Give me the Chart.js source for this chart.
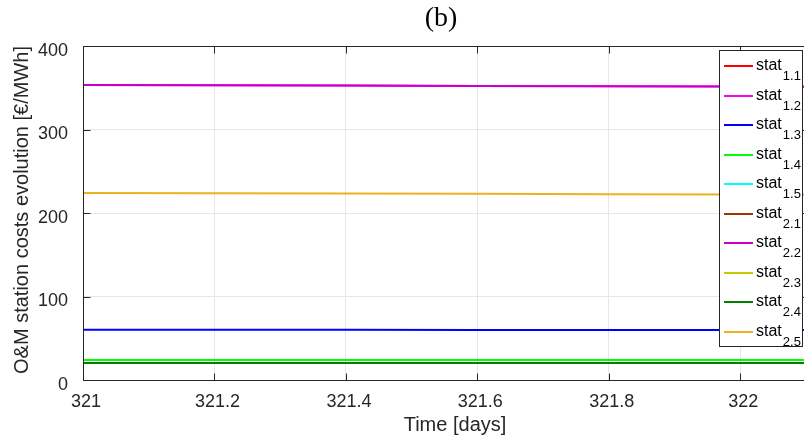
<!DOCTYPE html>
<html>
<head>
<meta charset="utf-8">
<script src="https://cdn.jsdelivr.net/npm/chart.js@4.4.0/dist/chart.umd.min.js"></script>
<style>
  html, body { margin: 0; padding: 0; background: #fff; overflow: hidden; width: 804px; height: 440px; }
  #wrap { position: relative; width: 810px; height: 440px; }
</style>
</head>
<body>
<div id="wrap"><canvas id="c" width="810" height="440"></canvas></div>
<script>
// Sample times (days) and O&M station cost values (€/MWh)
const times = [321.0, 321.2, 321.4, 321.6, 321.8, 322.0, 322.1];

const stat11 = [20.4, 20.4, 20.4, 20.4, 20.4, 20.4, 20.4];
const stat12 = [353.3, 353.0, 352.6, 352.2, 351.8, 351.4, 351.2];
const stat13 = [60.3, 60.2, 60.1, 60.0, 59.9, 59.8, 59.8];
const stat14 = [24.0, 24.0, 24.0, 24.0, 24.0, 24.0, 24.0];
const stat15 = [20.4, 20.4, 20.4, 20.4, 20.4, 20.4, 20.4];
const stat21 = [20.4, 20.4, 20.4, 20.4, 20.4, 20.4, 20.4];
const stat22 = [353.3, 353.0, 352.6, 352.2, 351.8, 351.4, 351.2];
const stat23 = [20.4, 20.4, 20.4, 20.4, 20.4, 20.4, 20.4];
const stat24 = [20.4, 20.4, 20.4, 20.4, 20.4, 20.4, 20.4];
const stat25 = [224.0, 223.7, 223.3, 223.0, 222.6, 222.3, 222.1];

const seriesValues = [stat11, stat12, stat13, stat14, stat15, stat21, stat22, stat23, stat24, stat25];
const seriesNames = ['1.1', '1.2', '1.3', '1.4', '1.5', '2.1', '2.2', '2.3', '2.4', '2.5'];
const seriesColors = ['#ff0000', '#ff00ff', '#0000ff', '#00ff00', '#00ffff',
                      '#a33300', '#c800c8', '#c8c800', '#008000', '#edb120'];

const xTicks = [321, 321.2, 321.4, 321.6, 321.8, 322];
const yTicks = [0, 100, 200, 300, 400];

const chartTitle = '(b)';
const xTitle = 'Time [days]';
const yTitle = 'O&M station costs evolution [€/MWh]';

const axisColor = '#262626';
const sansFont = '"Liberation Sans", Arial, sans-serif';

const datasets = seriesValues.map((vals, i) => ({
  label: 'stat ' + seriesNames[i],
  data: vals.map((v, k) => ({ x: times[k], y: v })),
  borderColor: seriesColors[i],
  backgroundColor: seriesColors[i],
  borderWidth: 2,
  pointRadius: 0,
  tension: 0,
  fill: false,
  // later stations are painted over earlier ones
  order: seriesValues.length - i
}));

// Axes box, inward ticks, legend with subscripts and the titles
const decorations = {
  id: 'decorations',
  afterDraw(chart) {
    const { ctx, chartArea: a, scales } = chart;
    const xs = scales.x, ys = scales.y;
    const L = Math.round(a.left) + 0.5, R = Math.round(a.right) + 0.5;
    const T = Math.round(a.top) + 0.5, B = Math.round(a.bottom) + 0.5;
    ctx.save();
    ctx.strokeStyle = axisColor;
    ctx.lineWidth = 1;
    ctx.beginPath();
    ctx.rect(L, T, R - L, B - T);
    const tl = 7;
    xs.ticks.forEach(t => {
      const px = Math.round(xs.getPixelForValue(t.value)) + 0.5;
      ctx.moveTo(px, B); ctx.lineTo(px, B - tl);
      ctx.moveTo(px, T); ctx.lineTo(px, T + tl);
    });
    ys.ticks.forEach(t => {
      const py = Math.round(ys.getPixelForValue(t.value)) + 0.5;
      ctx.moveTo(L, py); ctx.lineTo(L + tl, py);
      ctx.moveTo(R, py); ctx.lineTo(R - tl, py);
    });
    ctx.stroke();

    // legend
    const bx = 719.5, by = 50.5, bw = 83, bh = 296;
    ctx.fillStyle = '#fff';
    ctx.fillRect(bx, by, bw, bh);
    ctx.strokeStyle = axisColor;
    ctx.strokeRect(bx, by, bw, bh);
    seriesNames.forEach((name, i) => {
      const ly = Math.round(66 + i * 29.5);
      ctx.strokeStyle = seriesColors[i];
      ctx.lineWidth = 2;
      ctx.beginPath();
      ctx.moveTo(724, ly); ctx.lineTo(753, ly);
      ctx.stroke();
      ctx.fillStyle = '#000';
      ctx.textAlign = 'left';
      ctx.textBaseline = 'alphabetic';
      ctx.font = '16px ' + sansFont;
      ctx.fillText('stat', 756, ly + 4);
      const w = ctx.measureText('stat').width;
      ctx.font = '13px ' + sansFont;
      ctx.fillText(name, 756 + w + 1, ly + 13.5);
    });

    // titles
    ctx.fillStyle = '#000';
    ctx.textAlign = 'center';
    ctx.textBaseline = 'alphabetic';
    ctx.font = '28px "Liberation Serif", "Times New Roman", serif';
    ctx.fillText(chartTitle, 441, 26);
    ctx.fillStyle = axisColor;
    ctx.font = '20px ' + sansFont;
    ctx.fillText(xTitle, 455, 431);
    ctx.save();
    ctx.translate(28, 210);
    ctx.rotate(-Math.PI / 2);
    ctx.fillText(yTitle, 0, 0);
    ctx.restore();
    ctx.restore();
  }
};

new Chart(document.getElementById('c'), {
  type: 'line',
  data: { datasets },
  options: {
    responsive: false,
    animation: false,
    layout: { padding: { left: 0, top: 46, right: 4, bottom: 0 } },
    plugins: { legend: { display: false }, title: { display: false }, tooltip: { enabled: false } },
    scales: {
      x: {
        type: 'linear',
        min: 321,
        max: 322.1,
        afterBuildTicks: s => { s.ticks = xTicks.map(v => ({ value: v })); },
        afterFit: s => { s.height = 60; },
        grid: { color: '#e6e6e6', drawTicks: false, lineWidth: 1 },
        border: { display: false },
        ticks: {
          font: { family: sansFont, size: 18 },
          color: axisColor,
          padding: 11,
          labelOffset: 3,
          maxRotation: 0,
          autoSkip: false,
          callback: v => String(Math.round(v * 10) / 10)
        }
      },
      y: {
        min: 0,
        max: 400,
        afterBuildTicks: s => { s.ticks = yTicks.map(v => ({ value: v })); },
        afterFit: s => { s.width = 83; },
        grid: { color: '#e6e6e6', drawTicks: false, lineWidth: 1 },
        border: { display: false },
        ticks: {
          font: { family: sansFont, size: 18 },
          color: axisColor,
          padding: 15,
          labelOffset: 5,
          autoSkip: false,
          callback: v => String(v)
        }
      }
    }
  },
  plugins: [decorations]
});
</script>
</body>
</html>
